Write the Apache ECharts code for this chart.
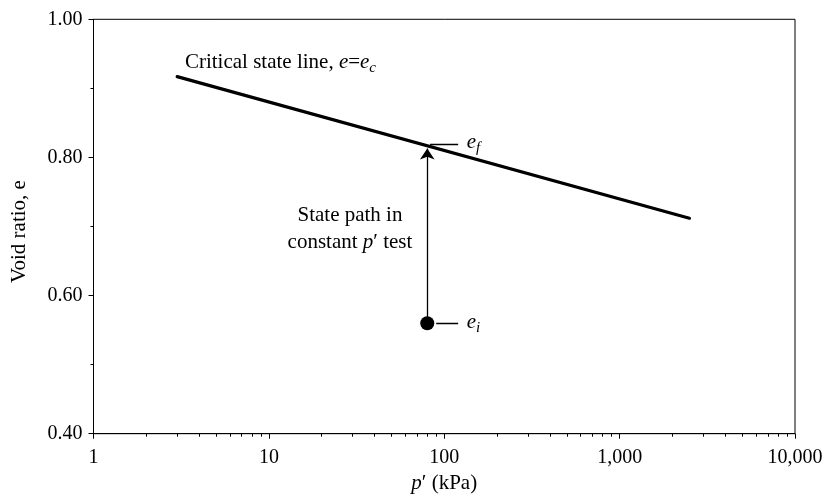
<!DOCTYPE html>
<html><head><meta charset="utf-8">
<script src="https://cdn.jsdelivr.net/npm/echarts@6/dist/echarts.min.js"></script>
<style>html,body{margin:0;padding:0;background:#fff}#c{width:827px;height:496px}</style>
</head><body><div id="c"></div>
<script>
// ---- data ----
const xTickValues = [1, 10, 100, 1000, 10000];
const xTickLabels = ['1', '10', '100', '1,000', '10,000'];
const xMinorTicks = [2, 3, 4, 5, 6, 7, 8, 9, 20, 30, 40, 50, 60, 70, 80, 90,
  200, 300, 400, 500, 600, 700, 800, 900, 2000, 3000, 4000, 5000, 6000, 7000, 8000, 9000];
const yMin = 0.40, yMax = 1.00, yStep = 0.20;

const cslP = [3, 2500];          // critical state line, p' (kPa)
const cslE = [0.917, 0.712];     // void ratio

const initP = [80];              // initial state
const initE = [0.56];

const pathP = [80, 80];          // state path (constant p' test)
const pathE = [0.56, 0.813];

const efLeaderP = [83, 120];  const efLeaderE = [0.819, 0.819];
const eiLeaderP = [90, 120];  const eiLeaderE = [0.56, 0.56];

const labelCsl = { p: 3.3, e: 0.938 };
const labelPath = { p: 29, e: 0.697 };
const labelEf = { p: 120, e: 0.822 };
const labelEi = { p: 120, e: 0.561 };

// ---- chart ----
const FONT = 'Liberation Serif';
const FS = 20, TFS = 21, AFS = 21;
const zip = (a, b) => a.map((v, i) => [v, b[i]]);
const chart = echarts.init(document.getElementById('c'), null, { renderer: 'canvas' });

const richBase = {
  n: { fontFamily: FONT, fontSize: AFS, color: '#000', opacity: 1 },
  i: { fontFamily: FONT, fontSize: AFS, fontStyle: 'italic', color: '#000', opacity: 1 },
  s: { fontFamily: FONT, fontSize: 15, fontStyle: 'italic', color: '#000', opacity: 1, padding: [11, 0, 0, 0] }
};

function textPoint(pos, formatter, position, extra) {
  return {
    value: [pos.p, pos.e],
    itemStyle: { opacity: 1 },
    label: Object.assign({
      show: true, formatter: formatter, position: position,
      distance: 0, rich: richBase, fontFamily: FONT, fontSize: AFS, color: '#000',
      textBorderWidth: 0, opacity: 1
    }, extra || {})
  };
}

const option = {
  animation: false,
  backgroundColor: '#fff',
  grid: { left: 93.5, right: 32, top: 19.3, bottom: 62.3, containLabel: false, outerBoundsMode: 'none',
    show: true, borderColor: '#000', borderWidth: 1, backgroundColor: 'transparent' },
  xAxis: [{
    type: 'log', logBase: 10, min: 1, max: 10000, position: 'bottom',
    name: "{i|p}{n|′ (kPa)}", nameLocation: 'middle', nameGap: 37,
    nameTextStyle: { rich: { i: { fontFamily: FONT, fontSize: TFS, fontStyle: 'italic', color: '#000' }, n: { fontFamily: FONT, fontSize: TFS, color: '#000' } } },
    axisLine: { show: true, lineStyle: { color: '#000', width: 1 } },
    axisTick: { show: true, length: 5, customValues: xTickValues, lineStyle: { color: '#000', width: 1 } },
    axisLabel: {
      customValues: xTickValues, margin: 14, fontFamily: FONT, fontSize: FS, color: '#000',
      formatter: function (v) {
        let best = 0;
        xTickValues.forEach((t, k) => { if (Math.abs(Math.log10(t) - Math.log10(v)) < Math.abs(Math.log10(xTickValues[best]) - Math.log10(v))) best = k; });
        return xTickLabels[best];
      }
    },
    splitLine: { show: false }, minorTick: { show: false }, minorSplitLine: { show: false }
  }, {
    type: 'log', logBase: 10, min: 1, max: 10000, position: 'bottom',
    axisLine: { show: false },
    axisTick: { show: true, length: 3, customValues: xMinorTicks, lineStyle: { color: '#000', width: 1 } },
    axisLabel: { show: false },
    splitLine: { show: false }
  }],
  yAxis: {
    type: 'value', min: yMin, max: yMax, interval: yStep,
    name: 'Void ratio, e', nameLocation: 'middle', nameGap: 64,
    nameTextStyle: { fontFamily: FONT, fontSize: TFS, color: '#000', padding: [0, 10, 0, 0] },
    axisLine: { show: true, lineStyle: { color: '#000', width: 1 } },
    axisTick: { show: true, length: 5, lineStyle: { color: '#000', width: 1 } },
    minorTick: { show: true, splitNumber: 2, length: 3, lineStyle: { color: '#000', width: 1 } },
    axisLabel: { margin: 11, fontFamily: FONT, fontSize: FS, color: '#000', formatter: v => v.toFixed(2) },
    splitLine: { show: false }
  },
  series: [
    {
      type: 'line', name: 'Critical state line', data: zip(cslP, cslE),
      symbol: 'none', lineStyle: { color: '#000', width: 3.2, cap: 'round' }, z: 3
    },
    {
      type: 'lines', coordinateSystem: 'cartesian2d', polyline: false,
      data: [{ coords: zip(pathP, pathE) }],
      symbol: ['none', 'arrow'], symbolSize: [0, 11],
      lineStyle: { color: '#000', width: 1.3, opacity: 1 }, z: 2
    },
    {
      type: 'lines', coordinateSystem: 'cartesian2d',
      data: [{ coords: zip(efLeaderP, efLeaderE) }, { coords: zip(eiLeaderP, eiLeaderE) }],
      symbol: 'none', lineStyle: { color: '#000', width: 1.3, opacity: 1 }, z: 2
    },
    {
      type: 'scatter', name: 'Initial state', data: zip(initP, initE),
      symbol: 'circle', symbolSize: 14, itemStyle: { color: '#000', opacity: 1 }, z: 4
    },
    {
      type: 'scatter', symbolSize: 1, silent: true, itemStyle: { color: 'rgba(255,255,255,0)', opacity: 1 }, z: 5,
      data: [
        textPoint(labelCsl, '{n|Critical state line, }{i|e}{n|=}{i|e}{s|c}', 'right'),
        textPoint(labelEf, '{i|e}{s|f}', 'right', { distance: 8 }),
        textPoint(labelEi, '{i|e}{s|i}', 'right', { distance: 8 }),
        textPoint(labelPath, '{n|State path in}\n{n|constant }{i|p}{n|′ test}', 'inside', { align: 'center', verticalAlign: 'middle', lineHeight: 27, rich: {
          n: { fontFamily: FONT, fontSize: AFS, color: '#000', lineHeight: 27 },
          i: { fontFamily: FONT, fontSize: AFS, fontStyle: 'italic', color: '#000', lineHeight: 27 } } })
      ]
    }
  ]
};
chart.setOption(option);
</script>
</body></html>
